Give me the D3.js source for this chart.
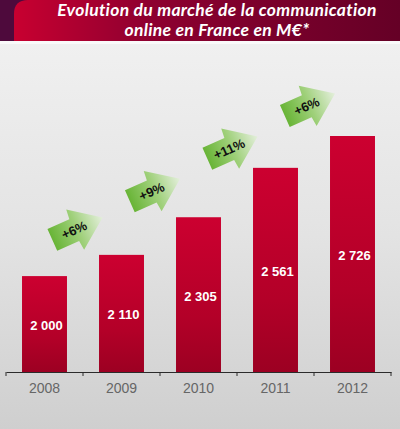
<!DOCTYPE html>
<html>
<head>
<meta charset="utf-8">
<script src="https://cdn.jsdelivr.net/npm/d3@7"></script>
<style>
html, body { margin: 0; padding: 0; background: #fff; overflow: hidden; }
svg { display: block; }
</style>
</head>
<body>
<svg width="400" height="429"></svg>
<script>
var years = ["2008", "2009", "2010", "2011", "2012"];
var values = [2000, 2110, 2305, 2561, 2726];
var valueLabels = ["2 000", "2 110", "2 305", "2 561", "2 726"];
var growth = ["+6%", "+9%", "+11%", "+6%"];
var titleLines = ["Evolution du marché de la communication", "online en France en M€*"];

// how far each arrow sits above the bar it points to
var arrowLift = [26, 27, 20, 31];

var svg = d3.select('svg');
var defs = svg.append('defs');

function addGradient(id, x2, y2, stops) {
    var g = defs.append('linearGradient').attr('id', id)
        .attr('x1', 0).attr('y1', 0).attr('x2', x2).attr('y2', y2);
    stops.forEach(function(s) {
        g.append('stop').attr('offset', s[0]).attr('stop-color', s[1]);
    });
}

addGradient('bg', 0, 1, [[0, '#f3f3f3'], [0.55, '#e3e3e3'], [1, '#cfcfcf']]);
addGradient('header', 1, 0, [[0, '#c80030'], [0.35, '#8e0030'], [1, '#650026']]);
addGradient('bar', 0, 1, [[0, '#cc0030'], [0.65, '#b30028'], [1, '#9c0022']]);
addGradient('arrow', 1, 0, [[0, '#68b436'], [0.5, '#9fd07a'], [1, '#e4efdc']]);

// background and title band
svg.append('rect').attr('width', 400).attr('height', 429).attr('fill', 'url(#bg)');
svg.append('rect').attr('y', 41).attr('width', 400).attr('height', 3).attr('fill', '#fafafa');
svg.append('rect').attr('width', 400).attr('height', 41).attr('fill', '#4e0a3c');
svg.append('path')
    .attr('d', 'M14,41V14Q14,0 28,0H400V41Z')
    .attr('fill', 'url(#header)');

svg.selectAll('.title')
    .data(titleLines)
    .enter()
    .append('text')
    .attr('class', 'title')
    .attr('x', 217)
    .attr('y', function(d, i) { return 16 + i * 20; })
    .attr('text-anchor', 'middle')
    .attr('fill', '#fff')
    .style('font', 'italic bold 17.5px Lato')
    .style('letter-spacing', '0.3px')
    .text(function(d) { return d; });

// scales
var x = d3.scaleBand().domain(years).range([6, 391]).paddingInner(0.416).paddingOuter(0.208);
var y = d3.scaleLinear().domain([1503, 2726]).range([372, 136]);

// bars
svg.selectAll('.bar')
    .data(values)
    .enter()
    .append('rect')
    .attr('class', 'bar')
    .attr('x', function(d, i) { return x(years[i]); })
    .attr('y', function(d) { return y(d); })
    .attr('width', x.bandwidth())
    .attr('height', function(d) { return y.range()[0] - y(d); })
    .attr('fill', 'url(#bar)');

svg.selectAll('.val')
    .data(values)
    .enter()
    .append('text')
    .attr('class', 'val')
    .attr('x', function(d, i) { return x(years[i]) + x.bandwidth() / 2 + 2; })
    .attr('y', function(d) { return (y(d) + y.range()[0]) / 2 + 6; })
    .attr('text-anchor', 'middle')
    .attr('fill', '#fff')
    .style('font', 'bold 13px "Liberation Sans"')
    .text(function(d, i) { return valueLabels[i]; });

// axis: labels from the band axis, ticks on the band limits
var axis = svg.append('g')
    .attr('transform', 'translate(0,372)')
    .call(d3.axisBottom(x).tickSize(0).tickPadding(11));
axis.select('.domain').attr('stroke', '#2b2b2b').attr('stroke-width', 1);
axis.selectAll('text')
    .attr('fill', '#666')
    .style('font', '14px "Liberation Sans"');

var limits = years.map(function(d) { return x(d) - x.step() * x.paddingInner() / 2; });
limits.push(x.range()[1]);
axis.selectAll('.limit')
    .data(limits)
    .enter()
    .append('line')
    .attr('class', 'limit')
    .attr('x1', function(d) { return d; })
    .attr('x2', function(d) { return d; })
    .attr('y1', 0)
    .attr('y2', 4)
    .attr('stroke', '#2b2b2b');

// growth arrows, between each bar and the next one
var arrows = svg.selectAll('.arrow')
    .data(growth)
    .enter()
    .append('g')
    .attr('class', 'arrow')
    .attr('transform', function(d, i) {
        var cx = x(years[i + 1]) - x.step() * x.paddingInner() / 2 - 6 + i * 0.5;
        return 'translate(' + cx + ',' + (y(values[i + 1]) - arrowLift[i]) + ')rotate(-24)';
    });

arrows.append('path')
    .attr('d', 'M-27,-12H-3L-2,-22L28,0L-2,22L-3,12H-27Z')
    .attr('fill', 'url(#arrow)');

arrows.append('text')
    .attr('x', -3)
    .attr('y', 4.5)
    .attr('text-anchor', 'middle')
    .attr('fill', '#111')
    .style('font', 'bold 13px "Liberation Sans"')
    .text(function(d) { return d; });
</script>
</body>
</html>
